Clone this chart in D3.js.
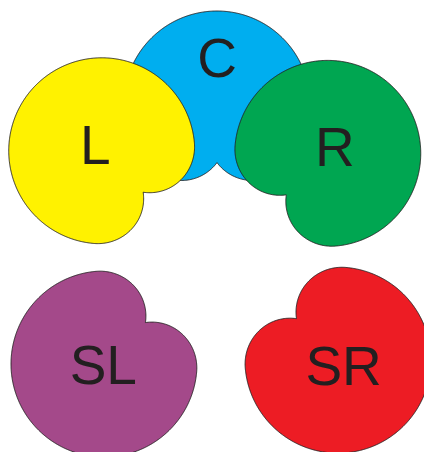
<!DOCTYPE html>
<html>
<head>
<meta charset="utf-8">
<script src="https://cdn.jsdelivr.net/npm/d3@7/dist/d3.min.js"></script>
<style>
html,body{margin:0;padding:0;background:#fff;}
svg{display:block;}
</style>
</head>
<body>
<svg id="chart" width="424" height="452"></svg>
<script>
// Speaker layout data (room coordinates) and pattern orientation
const labels   = ["C", "L", "R", "SL", "SR"];
const roomX    = [0, -1.02, 0.98, -1.0, 1.07];
const roomY    = [0, 0.18, 0.19, 1.0, 0.985];
const facing   = [180, 135, 225, 45, 315];   // direction of the rear notch (deg, clockwise from up)
const colors   = ["#00aeef", "#fff200", "#00a651", "#a4498a", "#ed1c24"];
const labelLift = [46.5, 9, 10, 1, 8];        // label shift away from notch

const svg = d3.select("#chart");
const x = d3.scaleLinear().domain([-1, 1]).range([104, 330]);
const y = d3.scaleLinear().domain([0, 1]).range([104, 364]);

const R = 93, depth = 0.37, width = 50;
const angles = d3.range(0, 360, 0.5);

function radiusAt(a, f) {
  let d = Math.abs(((a - f) % 360 + 540) % 360 - 180);
  const h = Math.max(0, 1 - d / width);
  return R * (1 - depth * h * h);
}

const data = labels.map((l, i) => ({label: l, x: x(roomX[i]), y: y(roomY[i]), f: facing[i], color: colors[i], lift: labelLift[i]}));

const g = svg.selectAll("g.spk").data(data).join("g")
  .attr("class", "spk")
  .attr("transform", d => `translate(${d.x},${d.y})`);

g.append("path")
  .attr("d", d => d3.lineRadial()
      .angle(a => a * Math.PI / 180)
      .radius(a => radiusAt(a, d.f))
      .curve(d3.curveLinearClosed)(angles))
  .attr("fill", d => d.color)
  .attr("stroke", "#231f20")
  .attr("stroke-width", 0.9);

g.append("text")
  .attr("x", d => -Math.sin(d.f * Math.PI / 180) * d.lift)
  .attr("y", d => Math.cos(d.f * Math.PI / 180) * d.lift + 19.5)
  .attr("text-anchor", "middle")
  .attr("font-family", "Liberation Sans, Arial, sans-serif")
  .attr("font-size", 55)
  .attr("fill", "#231f20")
  .text(d => d.label);
</script>
</body>
</html>
